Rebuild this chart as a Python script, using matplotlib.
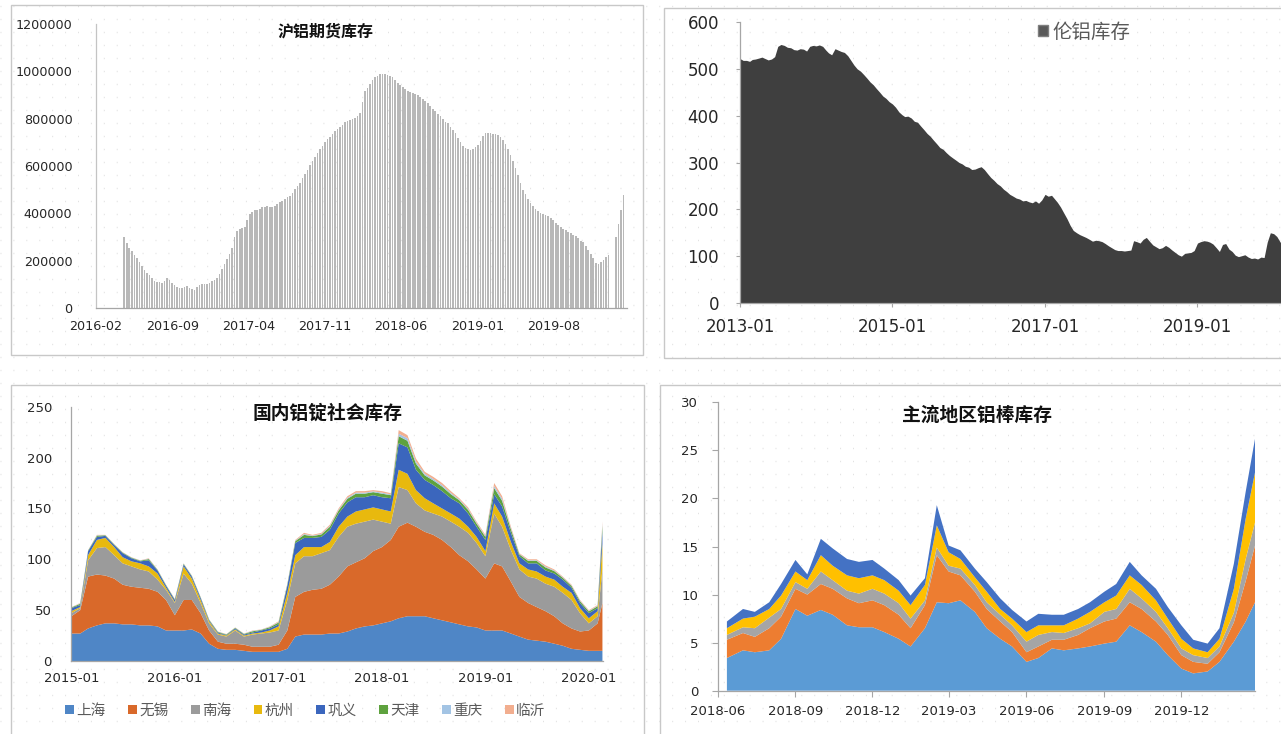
import numpy as np
import pandas as pd
import matplotlib
matplotlib.use("Agg")
import matplotlib.pyplot as plt
import matplotlib.dates as mdates
from matplotlib.patches import Rectangle, Patch
from matplotlib.ticker import FuncFormatter

plt.rcParams["font.family"] = ["DejaVu Sans", "Noto Sans CJK SC"]
CJK = ["Noto Sans CJK SC", "DejaVu Sans"]

W, H = 1281, 734

# ---------------- 沪铝期货库存 (weekly, thousand tonnes) ----------------
shfe_start = "2016-04-20"
shfe_k = [
    300, 275, 255, 240, 225, 212, 195, 178, 160, 150,
    138, 125, 114, 110, 108, 106, 112, 126, 118, 106,
    98, 90, 84, 86, 90, 91, 86, 80, 77, 88,
    98, 100, 101, 102, 106, 112, 119, 128, 145, 165,
    185, 205, 230, 255, 300, 325, 332, 338, 344, 370,
    398, 405, 412, 416, 420, 425, 428, 430, 428, 427,
    430, 438, 447, 452, 460, 467, 475, 488, 502, 514,
    530, 550, 566, 585, 603, 620, 638, 655, 672, 685,
    700, 712, 724, 735, 746, 756, 765, 775, 785, 790,
    795, 799, 802, 812, 822, 870, 915, 930, 948, 965,
    975, 982, 988, 990, 988, 985, 982, 975, 963, 950,
    942, 932, 925, 918, 914, 910, 905, 900, 893, 885,
    876, 865, 852, 842, 832, 820, 812, 800, 788, 780,
    765, 752, 738, 720, 700, 685, 676, 670, 667, 672,
    680, 688, 705, 728, 738, 740, 738, 737, 735, 730,
    722, 710, 692, 672, 648, 620, 590, 560, 530, 500,
    482, 462, 445, 430, 420, 410, 402, 398, 394, 388,
    382, 372, 360, 350, 342, 335, 330, 322, 316, 310,
    305, 295, 284, 278, 262, 245, 230, 212, 192, 185,
    195, 204, 215, 225, 0, 0, 300, 355, 415, 478,
]
shfe_ticks = ["2016-02-01", "2016-09-01", "2017-04-01", "2017-11-01",
              "2018-06-01", "2019-01-01", "2019-08-01"]

# ---------------- 伦铝库存 (1st / 16th of each month, 2013-01 .. 2020-02) ----------------
lme = [
    522, 518, 518, 516, 520, 521, 523, 525, 522, 519, 521, 526,
    548, 552, 550, 546, 545, 541, 540, 543, 542, 538, 548, 550,
    549, 551, 548, 540, 534, 530, 543, 540, 537, 535, 528, 518,
    508, 500, 495, 488, 480, 472, 466, 458, 450, 442, 437, 430,
    425, 418, 408, 402, 398, 399, 395, 388, 386, 378, 370, 362,
    356, 348, 340, 332, 328, 321, 315, 310, 305, 300, 297, 292,
    290, 285, 286, 289, 291, 285, 276, 268, 262, 255, 250, 243,
    238, 232, 228, 224, 222, 218, 219, 216, 214, 218, 213, 220,
    232, 228, 230, 222, 215, 205, 192, 180, 166, 155, 150, 146,
    143, 140, 136, 132, 134, 133, 131, 127, 122, 118, 114, 112,
    112, 111, 112, 113, 133, 131, 128, 136, 140, 132, 124, 120,
    116, 118, 123, 119, 113, 108, 103, 100, 106, 107, 108, 112,
    128, 131, 133, 132, 130, 126, 118, 110, 125, 127, 115, 110,
    102, 99, 101, 103, 98, 95, 96, 94, 98, 97, 130, 150,
    148, 142, 130, 125,
]
lme_ticks = ["2013-01-01", "2015-01-01", "2017-01-01", "2019-01-01"]

# ---------------- 国内铝锭社会库存 (monthly 2015-01 .. 2020-02, last 2020-02-18) ----------------
soc_names = ["上海", "无锡", "南海", "杭州", "巩义", "天津", "重庆", "临沂"]
soc_sh = [27, 27, 32, 35, 37, 37, 36, 36, 35, 35, 34, 30,
          30, 30, 31, 27, 17, 12, 11, 11, 10, 9, 9, 9,
          9, 12, 24, 26, 26, 26, 27, 27, 29, 32, 34, 35,
          37, 39, 42, 44, 44, 44, 42, 40, 38, 36, 34, 33,
          30, 30, 30, 27, 24, 21, 20, 19, 17, 15, 12, 11,
          10, 10, 10]
soc_wx = [17, 23, 51, 50, 47, 44, 39, 37, 37, 36, 34, 30,
          15, 30, 29, 20, 13, 7, 6, 6, 6, 5, 5, 5,
          7, 18, 39, 42, 44, 45, 48, 56, 64, 65, 67, 73,
          75, 80, 90, 92, 88, 83, 82, 79, 74, 68, 64, 57,
          51, 66, 63, 51, 39, 36, 33, 30, 27, 22, 20, 18,
          20, 27, 47]
soc_nh = [3, 2, 16, 26, 28, 23, 21, 20, 18, 17, 12, 10,
          12, 26, 16, 10, 7, 7, 7, 13, 8, 12, 13, 14,
          14, 30, 33, 35, 33, 35, 34, 39, 39, 38, 36, 31,
          25, 16, 39, 32, 23, 21, 21, 23, 25, 28, 28, 26,
          22, 49, 39, 31, 27, 26, 28, 27, 29, 30, 28, 18,
          7, 7, 33]
soc_hz = [2, 1, 5, 8, 9, 8, 6, 5, 6, 5, 6, 2,
          1, 7, 5, 3, 2, 1, 1, 1, 1, 1, 1, 2,
          4, 7, 8, 9, 9, 6, 8, 10, 10, 12, 12, 12,
          12, 12, 17, 16, 13, 12, 10, 8, 8, 8, 6, 6,
          5, 10, 10, 8, 6, 7, 7, 7, 7, 6, 7, 5,
          5, 5, 25]
soc_gy = [3, 2, 4, 3, 2, 2, 4, 3, 2, 6, 3, 2,
          2, 2, 2, 2, 1, 1, 0.5, 1, 1, 1, 2, 2,
          2, 7, 12, 9, 9, 10, 12, 13, 14, 14, 12, 12,
          12, 13, 26, 26, 20, 18, 18, 17, 15, 15, 13, 10,
          11, 9, 10, 9, 7, 6, 8, 6, 6, 7, 5, 5,
          5, 3, 13]
soc_tj = [0.6, 1.2, 0.6, 1.2, 0.6, 0.6, 0.6, 0.6, 0.6, 1.2, 0.6, 0.6,
          0.6, 0.6, 0.6, 0.6, 0.6, 0.6, 0.6, 0.6, 0.6, 1.2, 0.6, 1.2,
          1.8, 1.2, 1.8, 3.0, 1.8, 2.4, 3.0, 3.0, 3.5, 3.5, 3.5, 3.0,
          3.5, 3.0, 7.0, 6.5, 6.0, 4.5, 4.5, 4.5, 4.0, 3.0, 3.5, 3.0,
          3.0, 6.0, 5.5, 3.5, 1.8, 2.4, 2.4, 3.0, 2.4, 1.8, 1.8, 1.8,
          1.8, 1.8, 5.0]
soc_cq = [0.2, 0.4, 0.2, 0.4, 0.2, 0.2, 0.2, 0.2, 0.2, 0.4, 0.2, 0.2,
          0.2, 0.2, 0.2, 0.2, 0.2, 0.2, 0.2, 0.2, 0.2, 0.4, 0.2, 0.4,
          0.5, 0.4, 0.5, 0.8, 0.5, 0.6, 0.8, 0.8, 1.0, 1.0, 1.0, 0.8,
          1.0, 0.8, 2.5, 2.5, 2.0, 1.5, 1.5, 1.5, 1.2, 0.8, 1.0, 0.8,
          0.8, 2.0, 2.0, 1.0, 0.5, 0.6, 0.6, 0.8, 0.6, 0.5, 0.5, 0.5,
          0.5, 0.5, 1.8]
soc_ly = [0.2, 0.4, 0.2, 0.4, 0.2, 0.2, 0.2, 0.2, 0.2, 0.4, 0.2, 0.2,
          0.2, 0.2, 0.2, 0.2, 0.2, 0.2, 0.2, 0.2, 0.2, 0.4, 0.2, 0.4,
          0.7, 0.4, 0.7, 1.2, 0.7, 1.0, 1.2, 1.2, 1.5, 1.5, 1.5, 1.2,
          1.5, 1.2, 3.5, 3.0, 3.0, 2.0, 2.0, 2.0, 1.8, 1.2, 1.5, 1.2,
          1.2, 3.0, 2.5, 1.5, 0.7, 1.0, 1.0, 1.2, 1.0, 0.7, 0.7, 0.7,
          0.7, 0.7, 2.2]
soc_colors = ["#4f86c6", "#d9692a", "#9b9b9b", "#e8b90e",
              "#3b66bd", "#5ea23e", "#a3c4e4", "#f2ae8f"]
soc_ticks = ["2015-01-01", "2016-01-01", "2017-01-01",
             "2018-01-01", "2019-01-01", "2020-01-01"]

# ---------------- 主流地区铝棒库存 (semi-monthly) ----------------
rod_s1 = [3.4, 4.2, 4.0, 4.2, 5.4, 8.5, 7.8, 8.4, 7.9, 6.8, 6.6, 6.6, 6.1,
          5.4, 4.6, 6.5, 9.2, 9.1, 9.4, 8.2, 6.5, 5.4, 4.6, 3.0, 3.4,
          4.4, 4.2, 4.4, 4.6, 4.9, 5.1, 6.8, 6.1, 5.1, 3.7, 2.3, 1.8,
          2.0, 3.0, 5.1, 7.2, 9.2]
rod_s2 = [1.9, 1.8, 1.6, 2.3, 2.3, 2.1, 2.2, 2.7, 2.7, 2.8, 2.5, 2.8, 2.8,
          2.5, 1.9, 2.4, 4.9, 3.3, 2.6, 2.1, 2.0, 1.8, 1.5, 1.0, 1.2,
          0.9, 1.1, 1.4, 1.9, 2.3, 2.4, 2.4, 2.4, 2.1, 2.1, 1.4, 1.2,
          0.8, 1.0, 2.0, 4.2, 5.9]
rod_s3 = [0.5, 0.6, 0.9, 1.1, 0.8, 0.7, 0.6, 1.3, 0.9, 0.8, 1.0, 1.2, 1.2,
          1.2, 1.0, 0.5, 0.8, 0.6, 0.7, 0.7, 0.7, 0.7, 0.7, 1.1, 1.2,
          0.8, 0.7, 0.7, 0.5, 1.0, 1.0, 1.4, 1.1, 1.0, 0.7, 0.7, 0.7,
          0.6, 0.6, 1.0, 2.3, 2.4]
rod_s4 = [0.7, 0.9, 1.2, 0.9, 1.4, 1.1, 0.9, 1.7, 1.5, 1.6, 1.6, 1.4, 1.4,
          1.3, 1.4, 1.6, 2.3, 1.4, 1.0, 0.8, 1.1, 0.6, 0.7, 1.0, 1.0,
          0.7, 0.8, 1.0, 1.2, 1.0, 1.4, 1.4, 1.4, 1.2, 1.0, 1.0, 0.7,
          0.6, 0.8, 2.5, 4.2, 5.2]
rod_s5 = [0.7, 1.0, 0.5, 0.7, 1.2, 1.2, 0.6, 1.7, 1.8, 1.7, 1.7, 1.6, 1.2,
          1.1, 1.0, 0.7, 2.1, 0.7, 0.9, 0.9, 1.0, 1.1, 0.9, 1.1, 1.2,
          1.1, 1.1, 1.0, 1.0, 1.1, 1.2, 1.4, 1.0, 1.2, 1.2, 1.4, 0.9,
          0.9, 1.1, 2.6, 2.8, 3.5]
rod_colors = ["#5b9bd5", "#ed7d31", "#a5a5a5", "#ffc000", "#4472c4"]
rod_ticks = ["2018-06-01", "2018-09-01", "2018-12-01", "2019-03-01",
             "2019-06-01", "2019-09-01", "2019-12-01"]

TICK_COLOR = "#262626"
SPINE = "#a6a6a6"


def px_axes(fig, left, top, right, bottom):
    return fig.add_axes([left / W, 1 - bottom / H, (right - left) / W, (bottom - top) / H])


def frame(fig, left, top, right, bottom):
    fig.add_artist(Rectangle((left / W, 1 - bottom / H), (right - left) / W, (bottom - top) / H,
                             transform=fig.transFigure, fill=False, ec="#c8c8c8", lw=1.0))


def style(ax, ticks, ylim, ystep, fs, ypad, xpad, ticklen=0):
    ax.set_ylim(*ylim)
    ax.set_yticks(np.arange(ylim[0], ylim[1] + 1, ystep))
    ax.yaxis.set_major_formatter(FuncFormatter(lambda v, p: f"{v:.0f}"))
    ax.set_xticks(pd.to_datetime(ticks))
    ax.xaxis.set_major_formatter(mdates.DateFormatter("%Y-%m"))
    for s in ["top", "right"]:
        ax.spines[s].set_visible(False)
    for s in ["left", "bottom"]:
        ax.spines[s].set_color(SPINE)
        ax.spines[s].set_linewidth(0.9)
    ax.tick_params(axis="both", labelsize=fs, colors=TICK_COLOR, length=ticklen, color=SPINE)
    ax.tick_params(axis="y", pad=ypad)
    ax.tick_params(axis="x", pad=xpad)
    ax.set_facecolor("none")


def main():
    fig = plt.figure(figsize=(W / 100, H / 100), dpi=100)
    fig.patch.set_facecolor("white")

    # faint dotted background
    bg = fig.add_axes([0, 0, 1, 1], zorder=-10)
    bg.set_xlim(0, W)
    bg.set_ylim(H, 0)
    bg.axis("off")
    for yy in np.arange(6, H, 13):
        bg.plot([0, W], [yy, yy], color="#e2e2e2", lw=1.0, ls=(0, (0.7, 8.6)))

    frame(fig, 11, 5, 643, 355)
    frame(fig, 664, 8, 1300, 358)
    frame(fig, 11, 385, 644, 745)
    frame(fig, 660, 385, 1300, 745)

    # ---- panel 1
    ax1 = px_axes(fig, 96, 24, 627, 308)
    dates1 = pd.date_range(shfe_start, periods=len(shfe_k), freq="7D")
    ax1.bar(dates1, np.array(shfe_k) * 1000, width=4.6, color="#b8b8b8", linewidth=0)
    ax1.set_xlim(pd.Timestamp("2016-02-01"), pd.Timestamp("2020-02-22"))
    style(ax1, shfe_ticks, (0, 1200000), 200000, 9.2, 17, 9)
    ax1.spines["left"].set_color("#c4c4c4")
    fig.text(326 / W, 1 - 31 / H, "沪铝期货库存", ha="center", va="center",
             fontsize=11.5, fontweight="bold", family=CJK, color="#111111")

    # ---- panel 2
    ax2 = px_axes(fig, 740, 22, 1281, 303)
    dates2 = []
    for m in pd.date_range("2013-01-01", periods=len(lme) // 2, freq="MS"):
        dates2 += [m, m + pd.Timedelta(days=15)]
    ax2.fill_between(dates2, lme, color="#3f3f3f", linewidth=0)
    ax2.set_xlim(pd.Timestamp("2013-01-01"), pd.Timestamp("2020-02-05"))
    style(ax2, lme_ticks, (0, 600), 100, 12, 12, 8, ticklen=3)
    ax2.legend([Patch(facecolor="#595959", edgecolor="#7f7f7f")], ["伦铝库存"],
               loc="center left", bbox_to_anchor=(1028 / W, 1 - 32 / H),
               bbox_transform=fig.transFigure, frameon=False,
               prop={"family": CJK, "size": 14}, labelcolor="#595959",
               handlelength=0.55, handleheight=0.55, handletextpad=0.2, borderpad=0)

    # ---- panel 3
    ax3 = px_axes(fig, 71.4, 406.7, 603, 661)
    dates3 = list(pd.date_range("2015-01-01", periods=len(soc_sh) - 1, freq="MS")) + [pd.Timestamp("2020-02-18")]
    ax3.stackplot(dates3, soc_sh, soc_wx, soc_nh, soc_hz, soc_gy, soc_tj, soc_cq, soc_ly,
                  colors=soc_colors, labels=soc_names, linewidth=0)
    ax3.set_xlim(pd.Timestamp("2015-01-01"), pd.Timestamp("2020-02-20"))
    style(ax3, soc_ticks, (0, 250), 50, 9.5, 14, 8)
    fig.text(327.5 / W, 1 - 413 / H, "国内铝锭社会库存", ha="center", va="center",
             fontsize=13.5, fontweight="bold", family=CJK, color="#111111")
    handles = [Patch(facecolor=c) for c in soc_colors]
    ax3.legend(handles, soc_names, ncol=8, loc="center left",
               bbox_to_anchor=(58 / W, 1 - 711 / H), bbox_transform=fig.transFigure,
               frameon=False, prop={"family": CJK, "size": 10.5}, labelcolor="#595959",
               handlelength=0.6, handleheight=0.6, handletextpad=0.15,
               columnspacing=1.55, borderpad=0)

    # ---- panel 4
    ax4 = px_axes(fig, 717.6, 402.3, 1255, 690.7)
    dates4 = ([pd.Timestamp("2018-06-12")] +
              list(pd.date_range("2018-07-01", "2020-02-15", freq="SMS")) +
              [pd.Timestamp("2020-02-26")])
    ax4.stackplot(dates4, rod_s1, rod_s2, rod_s3, rod_s4, rod_s5,
                  colors=rod_colors, linewidth=0)
    ax4.set_xlim(pd.Timestamp("2018-06-01"), pd.Timestamp("2020-02-26"))
    style(ax4, rod_ticks, (0, 30), 5, 9.5, 10, 6, ticklen=4)
    fig.text(977 / W, 1 - 415 / H, "主流地区铝棒库存", ha="center", va="center",
             fontsize=13.5, fontweight="bold", family=CJK, color="#111111")

    fig.savefig("out.png", dpi=100)


if __name__ == "__main__":
    main()
